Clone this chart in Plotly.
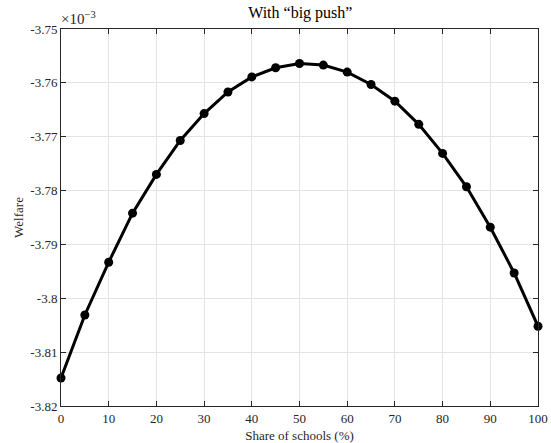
import plotly.graph_objects as go

# Share of schools receiving the intervention (%)
share = [0, 5, 10, 15, 20, 25, 30, 35, 40, 45, 50, 55, 60, 65, 70, 75, 80, 85, 90, 95, 100]
# Welfare, in units of 1e-3
welfare = [-3.8148, -3.8031, -3.7933, -3.7842, -3.7770, -3.7707, -3.7657, -3.7617,
           -3.7589, -3.7572, -3.7564, -3.7567, -3.7580, -3.7603, -3.7634, -3.7677,
           -3.7731, -3.7793, -3.7868, -3.7953, -3.8052]

x_ticks = [0, 10, 20, 30, 40, 50, 60, 70, 80, 90, 100]
y_ticks = [-3.82, -3.81, -3.80, -3.79, -3.78, -3.77, -3.76, -3.75]
y_ticklabels = ["-3.82", "-3.81", "-3.8", "-3.79", "-3.78", "-3.77", "-3.76", "-3.75"]

FONT = "Liberation Serif"
AX = "#262626"

fig = go.Figure(
    go.Scatter(
        x=share, y=welfare, mode="lines+markers",
        line=dict(color="black", width=3),
        marker=dict(color="black", size=9),
        showlegend=False,
        cliponaxis=False,
    )
)

axis_common = dict(
    showline=True, linecolor=AX, linewidth=1, mirror="ticks",
    ticks="inside", ticklen=5, tickcolor=AX, tickwidth=1,
    showgrid=True, gridcolor="#e3e3e3", gridwidth=1, zeroline=False,
    automargin=False,
    tickfont=dict(family=FONT, size=13, color="#262626"),
)

fig.update_layout(
    width=551, height=443,
    margin=dict(l=61, r=13, t=29, b=37),
    paper_bgcolor="white", plot_bgcolor="white",
    title=dict(text="With \u201cbig push\u201d", x=0.545, xanchor="center",
               y=0.972, yanchor="middle",
               font=dict(family=FONT, size=16, color="black")),
    xaxis=dict(range=[0, 100], tickvals=x_ticks, ticktext=[str(v) for v in x_ticks],
               title=dict(text="Share of schools (%)", standoff=6,
                          font=dict(family=FONT, size=13, color="#262626")),
               **axis_common),
    yaxis=dict(range=[-3.82, -3.75], tickvals=y_ticks, ticktext=y_ticklabels,
               title=dict(text="Welfare", standoff=3,
                          font=dict(family=FONT, size=13, color="#262626")),
               **axis_common),
    annotations=[dict(
        text="\u00d710<sup>\u22123</sup>", xref="paper", yref="paper",
        x=-0.004, y=1.0, xanchor="left", yanchor="bottom", showarrow=False,
        yshift=0, font=dict(family=FONT, size=15, color="#262626"),
    )],
)

fig.write_html("out.html")
